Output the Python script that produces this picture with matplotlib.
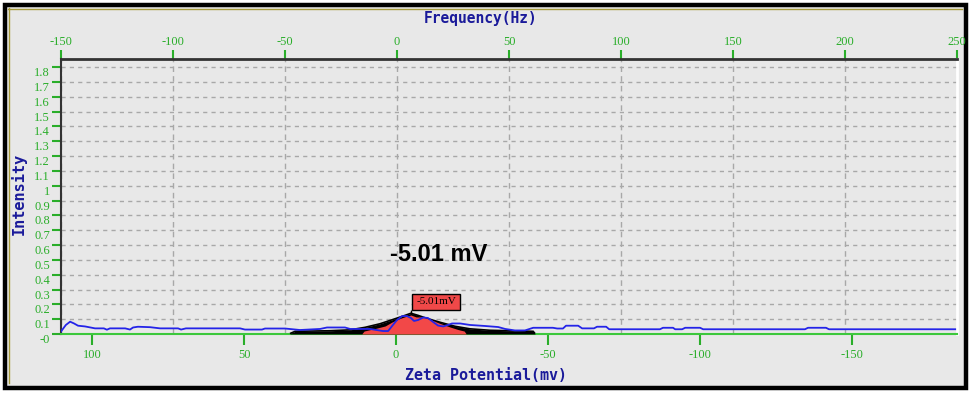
import numpy as np
import matplotlib
matplotlib.use("Agg")
import matplotlib.pyplot as plt
from matplotlib.patches import Rectangle
from matplotlib.lines import Line2D

# measured intensity trace (blue)
zeta_blue = [110.2, 108.6, 107.2, 105.9, 104.6, 102.3, 99.0, 96.1, 95.1, 94.1, 89.1, 87.5,
             86.5, 84.9, 80.9, 77.6, 71.7, 70.7, 69.1, 51.3, 49.7, 44.1, 43.1, 36.5, 31.6,
             25.0, 22.7, 16.8, 15.1, 8.6, 4.3, 2.6, 1.3, -0.3, -2.0, -3.6, -4.9, -5.9, -7.2,
             -8.9, -10.5, -12.2, -13.8, -15.5, -17.1, -18.4, -21.1, -24.3, -29.3, -33.6,
             -35.9, -39.1, -42.4, -45.1, -51.6, -53.0, -54.9, -55.9, -59.9, -61.2, -65.1,
             -66.1, -69.1, -70.1, -86.8, -87.8, -91.1, -91.8, -94.1, -95.1, -100.0, -101.0,
             -134.5, -135.5, -141.4, -142.4, -183.9]
int_blue = [0.017, 0.061, 0.083, 0.071, 0.056, 0.051, 0.038, 0.038, 0.029, 0.038, 0.038, 0.030,
            0.044, 0.049, 0.046, 0.038, 0.038, 0.030, 0.038, 0.038, 0.030, 0.030, 0.037, 0.037,
            0.027, 0.034, 0.044, 0.044, 0.034, 0.034, 0.020, 0.020, 0.054, 0.094, 0.121, 0.121,
            0.108, 0.088, 0.094, 0.111, 0.108, 0.081, 0.057, 0.051, 0.061, 0.071, 0.071, 0.061,
            0.054, 0.047, 0.034, 0.024, 0.024, 0.042, 0.042, 0.037, 0.037, 0.056, 0.056, 0.038,
            0.038, 0.049, 0.049, 0.032, 0.032, 0.042, 0.042, 0.032, 0.032, 0.042, 0.042, 0.032,
            0.032, 0.042, 0.042, 0.032, 0.032]

# fitted distribution (black)
zeta_fit = [34.9, 33.2, 21.7, 15.1, 10.2, 5.3, 0.3, -3.0, -4.9, -7.2, -10.5, -14.5, -19.4,
            -24.3, -30.9, -37.5, -45.1, -45.7]
int_fit = [0.003, 0.018, 0.022, 0.028, 0.045, 0.069, 0.103, 0.126, 0.140, 0.126, 0.103, 0.079,
           0.052, 0.035, 0.025, 0.022, 0.018, 0.003]

# peak distribution (red)
zeta_peak = [11.2, 10.5, 6.9, 3.6, 1.3, -1.3, -3.6, -4.9, -6.6, -8.6, -11.2, -14.5, -17.8,
             -20.4, -22.4, -23.0]
int_peak = [0.003, 0.020, 0.037, 0.054, 0.081, 0.105, 0.121, 0.128, 0.115, 0.115, 0.098, 0.071,
            0.047, 0.030, 0.020, 0.003]

peak_zeta = -5.01
peak_int = 0.140

y_ticks = [round(0.1 * i, 1) for i in range(19)]
y_labels = ['-0'] + [f"{v:g}" for v in y_ticks[1:]]
freq_ticks = [-150, -100, -50, 0, 50, 100, 150, 200, 250]
zeta_ticks = [100, 50, 0, -50, -100, -150]

green = '#2aae2a'
navy = '#1a1a9a'
panel = '#e8e8e8'

W, H = 971, 393
fig = plt.figure(figsize=(W / 100, H / 100), dpi=100)
fig.patch.set_facecolor('white')

# outer panel with bevel frame
fig.add_artist(Rectangle((5 / W, 5 / H), 961 / W, 383 / H, transform=fig.transFigure,
                         facecolor=panel, edgecolor='black', lw=3.2, zorder=-10))
fig.add_artist(Line2D([8 / W, 962 / W], [1 - 8.5 / H, 1 - 8.5 / H], transform=fig.transFigure,
                      color='#a89c3c', lw=1))
fig.add_artist(Line2D([8.5 / W, 8.5 / W], [1 - 8 / H, 10 / H], transform=fig.transFigure,
                      color='#a89c3c', lw=1))

l, r, t, b = 61, 957, 59, 334
rect = [l / W, 1 - b / H, (r - l) / W, (b - t) / H]
ax = fig.add_axes(rect)
ax_top = ax.twiny()
ax.set_zorder(2)
ax_top.set_zorder(1)
ax.patch.set_visible(False)
ax_top.patch.set_facecolor(panel)

# top frequency axis (background + vertical grid)
ax_top.set_xlim(-150, 250)
ax_top.set_xticks(freq_ticks)
ax_top.set_xticklabels([str(v) for v in freq_ticks])
ax_top.xaxis.set_ticks_position('top')
ax_top.tick_params(axis='x', colors=green, direction='out', length=6.5, width=1.5, pad=1.5,
                   labelsize=9)
for lab in ax_top.get_xticklabels():
    lab.set_fontfamily('Liberation Serif')
ax_top.xaxis.grid(True, color='#a8a8a8', linestyle=(0, (4, 3)), lw=1)
for s in ax_top.spines.values():
    s.set_visible(False)
ax_top.set_yticks([])

# main zeta axis
ax.set_xlim(110.2, -184.5)
ax.set_ylim(0, 1.855)
ax.set_yticks(y_ticks)
ax.set_yticklabels(y_labels)
ax.set_xticks(zeta_ticks)
ax.set_xticklabels([str(v) for v in zeta_ticks])
ax.tick_params(axis='y', colors=green, direction='out', length=6.5, width=1.5, pad=1.5,
               labelsize=9)
ax.tick_params(axis='x', colors=green, direction='out', length=8, width=1.5, pad=3,
               labelsize=9)
for lab in ax.get_yticklabels():
    lab.set_fontfamily('Liberation Serif')
    lab.set_verticalalignment('top')
for lab in ax.get_xticklabels():
    lab.set_fontfamily('Liberation Serif')
ax.yaxis.grid(True, color='#a8a8a8', linestyle=(0, (3, 3)), lw=1)
ax.set_axisbelow(True)

ax.spines['top'].set_color('#333333')
ax.spines['top'].set_linewidth(2)
ax.spines['left'].set_color('#333333')
ax.spines['left'].set_linewidth(1.5)
ax.spines['bottom'].set_color('#3cc83c')
ax.spines['bottom'].set_linewidth(1.5)
ax.spines['right'].set_color('white')
ax.spines['right'].set_linewidth(2)

# curves
ax.fill_between(zeta_fit, 0, int_fit, color='black', lw=0, zorder=3)
ax.plot(zeta_fit, int_fit, color='black', lw=1.2, solid_capstyle='butt',
        solid_joinstyle='miter', zorder=3)
ax.fill_between(zeta_peak, 0, int_peak, color='#f24848', lw=0, zorder=4)
ax.plot(zeta_blue, int_blue, color='#2424e8', lw=1.3, zorder=5)

# peak flag
ax.vlines(peak_zeta, peak_int, 0.165, color='black', lw=1, zorder=6)
ax.text(-6.6, 0.186, '-5.01mV', fontsize=8, family='Liberation Serif', ha='left', va='bottom',
        zorder=7, bbox=dict(boxstyle='square,pad=0.35', facecolor='#f04848', edgecolor='black',
                            lw=1))
ax.text(-14.0, 0.535, '-5.01 mV', fontsize=17, fontweight='bold', family='Liberation Sans',
        ha='center', va='center', zorder=7)

# axis titles
fig.text(481 / W, 1 - 18 / H, 'Frequency(Hz)', family='DejaVu Sans Mono', fontweight='bold',
         fontsize=10.5, color=navy, ha='center', va='center')
fig.text(486 / W, 1 - 376 / H, 'Zeta Potential(mv)', family='DejaVu Sans Mono',
         fontweight='bold', fontsize=10.8, color=navy, ha='center', va='center')
fig.text(19 / W, 1 - 194 / H, 'Intensity', family='DejaVu Sans Mono', fontweight='bold',
         fontsize=11, color=navy, ha='center', va='center', rotation=90)

fig.savefig('out.png', dpi=100)
